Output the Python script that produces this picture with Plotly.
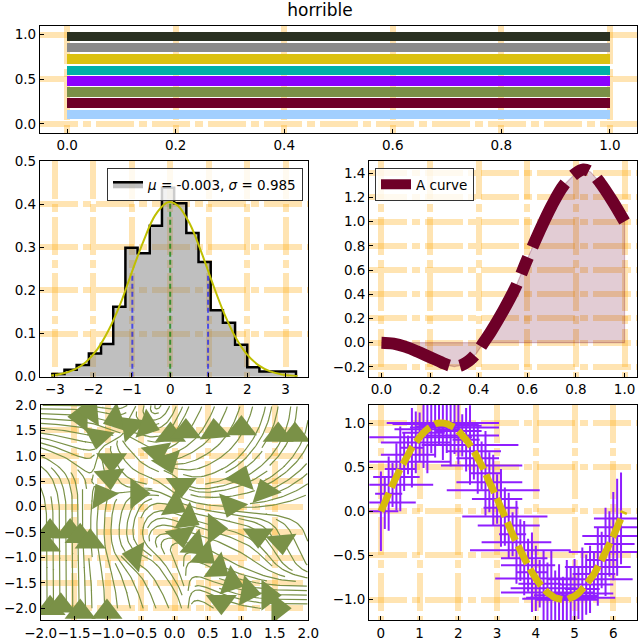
import plotly.graph_objects as go
import plotly.figure_factory as ff

FONT = "DejaVu Sans"
GRID = "rgba(255,165,0,0.30)"

# ---------------- panel 1: colour cycle bars ----------------
cycle_positions = [0.102, 0.233, 0.357, 0.480, 0.600, 0.724, 0.856, 0.980]
cycle_lengths = [1.0, 1.0, 1.0, 1.0, 1.0, 1.0, 1.0, 1.0]
cycle_colors = ["#a2cffe", "#6e0028", "#7a9147", "#8b00ff",
                "#00b0a8", "#dcc110", "#8a8a8a", "#293021"]

# ---------------- panel 2: histogram ----------------
hist_edges = [-3.070, -2.753, -2.436, -2.119, -1.802, -1.485, -1.168, -0.851,
              -0.534, -0.217, 0.100, 0.417, 0.734, 1.051, 1.368, 1.685,
              2.002, 2.319, 2.636, 2.953, 3.270]
hist_density = [0.006, 0.016, 0.027, 0.054, 0.076, 0.162, 0.299, 0.286, 0.350, 0.438,
                0.402, 0.333, 0.266, 0.154, 0.125, 0.074, 0.022, 0.012, 0.012, 0.012]
pdf_x = [-3.10, -2.80, -2.50, -2.20, -1.90, -1.60, -1.30, -1.00, -0.70, -0.40,
         -0.10, 0.00, 0.20, 0.50, 0.80, 1.10, 1.40, 1.70, 2.00, 2.30, 2.60, 2.90, 3.20, 3.31]
pdf_y = [0.0029, 0.0072, 0.0163, 0.0337, 0.0634, 0.1087, 0.1688, 0.2426, 0.3139, 0.3734,
         0.4030, 0.4050, 0.3965, 0.3555, 0.2905, 0.2163, 0.1469, 0.0909, 0.0512, 0.0263,
         0.0123, 0.0053, 0.0020, 0.0014]
stat_x = [-0.988, -0.003, 0.982]
stat_top = [0.240, 0.405, 0.240]
hist_label = "<i>μ</i> = -0.003, <i>σ</i> = 0.985"

# ---------------- panel 3: filled curve ----------------
curve_x = [0.00, 0.05, 0.10, 0.15, 0.20, 0.25, 0.28, 0.30, 0.33, 0.36, 0.39, 0.42,
           0.45, 0.50, 0.55, 0.60, 0.65, 0.70, 0.75, 0.80, 0.83, 0.86, 0.90, 0.95, 1.00]
curve_y = [0.000, -0.008, -0.035, -0.075, -0.120, -0.165, -0.190, -0.197, -0.185, -0.150,
           -0.090, 0.000, 0.090, 0.260, 0.450, 0.690, 0.920, 1.130, 1.300, 1.400, 1.430,
           1.410, 1.320, 1.170, 1.000]

# ---------------- panel 4: stream field (directions) ----------------
stream_x = [-2.0, -1.5, -1.0, -0.5, 0.0, 0.5, 1.0, 1.5, 2.0]
stream_y = [-2.0, -1.5, -1.0, -0.5, 0.0, 0.5, 1.0, 1.5, 2.0]
stream_u = [
    [0.0, 0.0, 0.0, -0.2, -0.3, 0.5, 1.0, 1.0, 1.0],
    [0.0, 0.0, -0.1, -0.4, -0.5, 0.8, 1.0, 1.0, 1.0],
    [0.0, 0.0, -0.2, -1.0, -0.3, 1.0, 0.8, 0.5, 0.3],
    [0.0, 0.0, 0.0, 0.0, 1.0, 1.0, 1.0, 0.4, 0.3],
    [-0.1, 0.0, 0.1, 0.5, 1.0, 1.0, 1.0, 1.0, 1.0],
    [-0.4, -0.2, 0.2, 1.0, 0.6, 1.0, 1.0, 1.0, 1.0],
    [-1.0, -1.0, 0.3, 0.7, 1.0, 1.0, 0.7, 0.6, 0.5],
    [-1.0, -1.0, -1.0, 1.0, 0.5, 0.5, 0.4, 0.3, 0.2],
    [-1.0, -1.0, -1.0, -0.3, 0.3, 0.3, 0.2, 0.1, 0.0],
]
stream_v = [
    [1.0, 1.0, 1.0, 1.0, 1.0, -0.5, -0.3, 0.0, 0.0],
    [1.0, 1.0, 1.0, 1.0, 1.0, -0.4, -0.3, -0.1, 0.0],
    [1.0, 1.0, 1.0, 0.5, 1.0, -0.8, -0.6, -1.0, -1.0],
    [1.0, 1.0, 1.0, 1.0, -0.4, -0.4, -0.5, -1.0, -1.0],
    [1.0, 1.0, 1.0, 1.0, -0.6, -0.2, 0.0, 0.2, 0.3],
    [1.0, 1.0, -1.0, -0.3, -1.0, 0.3, 0.6, 0.8, 1.0],
    [0.6, 0.6, -1.0, -1.0, 0.5, 0.8, 1.0, 1.0, 1.0],
    [0.1, 0.2, 0.5, -0.3, 1.0, 1.0, 1.0, 1.0, 1.0],
    [0.0, 0.0, 0.2, -1.0, 1.0, 1.0, 1.0, 1.0, 1.0],
]
arrow_x = [-1.40, -1.25, -0.88, -1.14, -0.65, -0.41, -0.94, -0.97, -1.08, -0.56, -0.59,
           -1.86, -1.56, -1.41, -1.26, -1.93, -1.86, -1.70, -1.41, -1.01,
           -0.06, 0.17, 0.60, 1.00, 1.55, 1.80, -0.10, -0.26, 0.10, 1.00, 1.35, 0.85,
           0.00, 0.20, 0.60, 0.10, 0.30, 0.45, 0.65, 0.85, 1.10, 1.40, 1.55, 0.70, 1.25, 1.60]
arrow_y = [1.77, 1.88, 1.72, 1.38, 1.57, 1.60, 0.92, 0.59, 0.22, 0.26, -0.97,
           -0.49, -0.49, -0.58, -0.69, -0.75, -2.00, -1.95, -2.07, -2.07,
           1.41, 1.48, 1.48, 1.54, 1.41, 1.41, 0.89, 1.08, 0.43, 0.56, 0.30, 0.03,
           0.03, -0.23, -0.43, -0.56, -0.75, -0.95, -1.21, -1.48, -1.67, -1.74, -2.00, -1.87, -0.56, -0.69]
arrow_dir = [180, 185, 200, 260, 135, -20, 270, 275, 120, 0, 170,
             90, 90, 90, 90, 90, 90, 90, 90, 90,
             90, 90, 95, 90, 90, 90, 290, 280, 270, 70, 110, 250,
             -30, -30, 0, 280, -40, -40, -35, -20, -10, 0, 0, 270, 270, 275]

# ---------------- panel 5: error bars ----------------
err_x = [0.0, 0.1, 0.2, 0.3, 0.4, 0.5, 0.6, 0.7, 0.8, 0.9,
         1.0, 1.1, 1.2, 1.3, 1.4, 1.5, 1.6, 1.7, 1.8, 1.9,
         2.0, 2.1, 2.2, 2.3, 2.4, 2.5, 2.6, 2.7, 2.8, 2.9,
         3.0, 3.1, 3.2, 3.3, 3.4, 3.5, 3.6, 3.7, 3.8, 3.9,
         4.0, 4.1, 4.2, 4.3, 4.4, 4.5, 4.6, 4.7, 4.8, 4.9,
         5.0, 5.1, 5.2, 5.3, 5.4, 5.5, 5.6, 5.7, 5.8, 5.9,
         6.0, 6.1, 6.2]
err_y = [0.00, 0.10, 0.20, 0.30, 0.39, 0.48, 0.56, 0.64, 0.72, 0.78,
         0.84, 0.89, 0.93, 0.96, 0.99, 1.00, 1.00, 0.99, 0.97, 0.95,
         0.91, 0.86, 0.81, 0.75, 0.68, 0.60, 0.52, 0.43, 0.33, 0.24,
         0.14, 0.04, -0.06, -0.16, -0.26, -0.35, -0.44, -0.53, -0.61, -0.69,
         -0.76, -0.82, -0.87, -0.92, -0.95, -0.98, -0.99, -1.00, -1.00, -0.98,
         -0.96, -0.93, -0.88, -0.83, -0.77, -0.71, -0.63, -0.55, -0.46, -0.37,
         -0.28, -0.18, -0.08]
err_yerr = [0.45, 0.30, 0.42, 0.25, 0.38, 0.48, 0.33, 0.22, 0.45, 0.35,
            0.28, 0.40, 0.50, 0.30, 0.38, 0.25, 0.42, 0.33, 0.46, 0.30,
            0.38, 0.24, 0.36, 0.45, 0.32, 0.40, 0.27, 0.48, 0.34, 0.40,
            0.28, 0.44, 0.33, 0.37, 0.25, 0.47, 0.35, 0.42, 0.30, 0.45,
            0.37, 0.27, 0.43, 0.34, 0.50, 0.31, 0.39, 0.26, 0.45, 0.36,
            0.42, 0.29, 0.47, 0.34, 0.38, 0.25, 0.44, 0.32, 0.50, 0.37,
            0.50, 0.55, 0.52]
err_xerr = [0.45, 0.80, 0.35, 1.05, 0.60, 0.40, 1.20, 0.70, 0.30, 0.90,
            1.35, 0.55, 0.85, 0.40, 1.10, 0.65, 1.45, 0.45, 0.80, 1.15,
            0.60, 0.95, 0.35, 1.25, 0.70, 0.55, 1.05, 0.40, 0.85, 1.20,
            0.65, 0.45, 1.10, 0.80, 0.35, 0.90, 1.30, 0.60, 0.70, 0.40,
            1.05, 0.55, 0.85, 1.20, 0.45, 0.65, 0.95, 0.40, 0.80, 1.15,
            0.60, 0.90, 0.45, 0.70, 1.10, 0.55, 0.85, 0.40, 0.95, 0.65,
            0.80, 0.60, 0.70]
sine_end_x = 6.28
sine_end_y = 0.0

# ---------------- tick values ----------------
top_xticks = [0.0, 0.2, 0.4, 0.6, 0.8, 1.0]
top_yticks = [0.0, 0.5, 1.0]
hist_xticks = [-3, -2, -1, 0, 1, 2, 3]
hist_yticks = [0.0, 0.1, 0.2, 0.3, 0.4, 0.5]
curve_xticks = [0.0, 0.2, 0.4, 0.6, 0.8, 1.0]
curve_yticks = [-0.2, 0.0, 0.2, 0.4, 0.6, 0.8, 1.0, 1.2, 1.4]
stream_ticks = [-2.0, -1.5, -1.0, -0.5, 0.0, 0.5, 1.0, 1.5, 2.0]
err_xticks = [0, 1, 2, 3, 4, 5, 6]
err_yticks = [-1.0, -0.5, 0.0, 0.5, 1.0]


def labels(vals, fmt):
    return [(fmt % v).replace("-", "\u2212") for v in vals]


def axis(domain, rng, ticks, fmt, anchor):
    return dict(domain=domain, range=rng, anchor=anchor, tickmode="array",
                tickvals=ticks, ticktext=labels(ticks, fmt),
                showline=True, linecolor="black", linewidth=1.3, mirror=True,
                ticks="inside", ticklen=4, tickwidth=1, tickcolor="black",
                showgrid=True, gridcolor=GRID, gridwidth=6, griddash="38px,5px,8px,5px",
                zeroline=False, tickangle=0, automargin=False, fixedrange=True,
                tickfont=dict(family=FONT, size=13.5, color="black"))


fig = go.Figure()

# panel 1
fig.add_trace(go.Bar(x=cycle_lengths, y=cycle_positions, base=0, orientation="h",
                     width=0.106, marker=dict(color=cycle_colors, line=dict(width=0)),
                     showlegend=False, xaxis="x", yaxis="y"))

# panel 2
sx, sy = [hist_edges[0]], [0.0]
for i, d in enumerate(hist_density):
    sx += [hist_edges[i], hist_edges[i + 1]]
    sy += [d, d]
sx.append(hist_edges[-1])
sy.append(0.0)
fig.add_trace(go.Scatter(x=sx, y=sy, mode="lines", fill="toself",
                         fillcolor="rgba(128,128,128,0.5)",
                         line=dict(color="black", width=2.5),
                         name=hist_label, legend="legend", xaxis="x2", yaxis="y2"))
for i, (xv, top) in enumerate(zip(stat_x, stat_top)):
    col = "rgba(0,128,0,0.7)" if i == 1 else "rgba(0,0,255,0.6)"
    fig.add_trace(go.Scatter(x=[xv, xv], y=[0, top], mode="lines",
                             line=dict(color=col, width=2, dash="5px,3px"),
                             showlegend=False, xaxis="x2", yaxis="y2"))
fig.add_trace(go.Scatter(x=pdf_x, y=pdf_y, mode="lines", line=dict(color="#bfbf00", width=2, shape="spline"),
                         showlegend=False, xaxis="x2", yaxis="y2"))

# panel 3
fig.add_trace(go.Scatter(x=curve_x + [curve_x[-1], curve_x[0]], y=curve_y + [0.0, 0.0],
                         mode="lines", fill="toself", fillcolor="rgba(110,0,40,0.20)",
                         line=dict(color="rgba(110,0,40,0.25)", width=1.2, shape="linear"),
                         showlegend=False, xaxis="x3", yaxis="y3"))
fig.add_trace(go.Scatter(x=curve_x, y=curve_y, mode="lines", name="A curve",
                         line=dict(color="#6e0028", width=12, dash="72px,11px,18px,11px", shape="spline"),
                         legend="legend2", xaxis="x3", yaxis="y3"))

# panel 4
sl = ff.create_streamline(stream_x, stream_y, stream_u, stream_v, density=1.6, arrow_scale=0.01)
fig.add_trace(go.Scatter(x=sl.data[0].x, y=sl.data[0].y, mode="lines",
                         line=dict(color="#7a9147", width=1.2),
                         showlegend=False, xaxis="x4", yaxis="y4"))
fig.add_trace(go.Scatter(x=arrow_x, y=arrow_y, mode="markers",
                         marker=dict(symbol="triangle-up", size=27, color="#7a9147",
                                     angle=[90 - d for d in arrow_dir], line=dict(width=0)),
                         showlegend=False, xaxis="x4", yaxis="y4"))

# panel 5
fig.add_trace(go.Scatter(x=err_x, y=err_y, mode="markers", marker=dict(size=1, opacity=0),
                         error_y=dict(type="data", array=err_yerr, color="#8f1eff", thickness=2, width=0),
                         error_x=dict(type="data", array=err_xerr, color="#8f1eff", thickness=2, width=0),
                         showlegend=False, xaxis="x5", yaxis="y5"))
fig.add_trace(go.Scatter(x=err_x + [sine_end_x], y=err_y + [sine_end_y], mode="lines",
                         line=dict(color="#d8bb0c", width=7, dash="20px,6px", shape="spline"),
                         showlegend=False, xaxis="x5", yaxis="y5"))

W = 640.0
fig.update_layout(
    width=640, height=640, margin=dict(l=0, r=0, t=0, b=0),
    paper_bgcolor="white", plot_bgcolor="white",
    font=dict(family=FONT, size=13.5, color="black"),
    title=dict(text="horrible", x=0.5, xanchor="center", y=1 - 10 / W, yanchor="middle",
               font=dict(family=FONT, size=17, color="black")),
    xaxis=axis([40 / W, 637 / W], [-0.05, 1.05], top_xticks, "%.1f", "y"),
    yaxis=axis([1 - 133 / W, 1 - 26 / W], [-0.103, 1.096], top_yticks, "%.1f", "x"),
    xaxis2=axis([40 / W, 308.3 / W], [-3.39, 3.59], hist_xticks, "%d", "y2"),
    yaxis2=axis([1 - 376.7 / W, 1 - 161 / W], [0.0, 0.5], hist_yticks, "%.1f", "x2"),
    xaxis3=axis([369.3 / W, 636.7 / W], [-0.05, 1.05], curve_xticks, "%.1f", "y3"),
    yaxis3=axis([1 - 376.7 / W, 1 - 161 / W], [-0.281, 1.50], curve_yticks, "%.1f", "x3"),
    xaxis4=axis([40.7 / W, 308.3 / W], [-2.0, 2.0], stream_ticks, "%.1f", "y4"),
    yaxis4=axis([1 - 620.3 / W, 1 - 405 / W], [-2.235, 2.0], stream_ticks, "%.1f", "x4"),
    xaxis5=axis([369.3 / W, 637.3 / W], [-0.30, 6.62], err_xticks, "%d", "y5"),
    yaxis5=axis([1 - 620.3 / W, 1 - 405 / W], [-1.234, 1.204], err_yticks, "%.1f", "x5"),
    legend=dict(x=107 / W, y=1 - 168 / W, xanchor="left", yanchor="top",
                bgcolor="rgba(255,255,255,0.8)", bordercolor="#333333", borderwidth=1,
                font=dict(family=FONT, size=13.5, color="black"), itemwidth=30),
    legend2=dict(x=375 / W, y=1 - 168 / W, xanchor="left", yanchor="top",
                 bgcolor="rgba(255,255,255,0.8)", bordercolor="#333333", borderwidth=1,
                 font=dict(family=FONT, size=13.5, color="black"), itemwidth=30),
    bargap=0,
)

fig.write_html("out.html")
